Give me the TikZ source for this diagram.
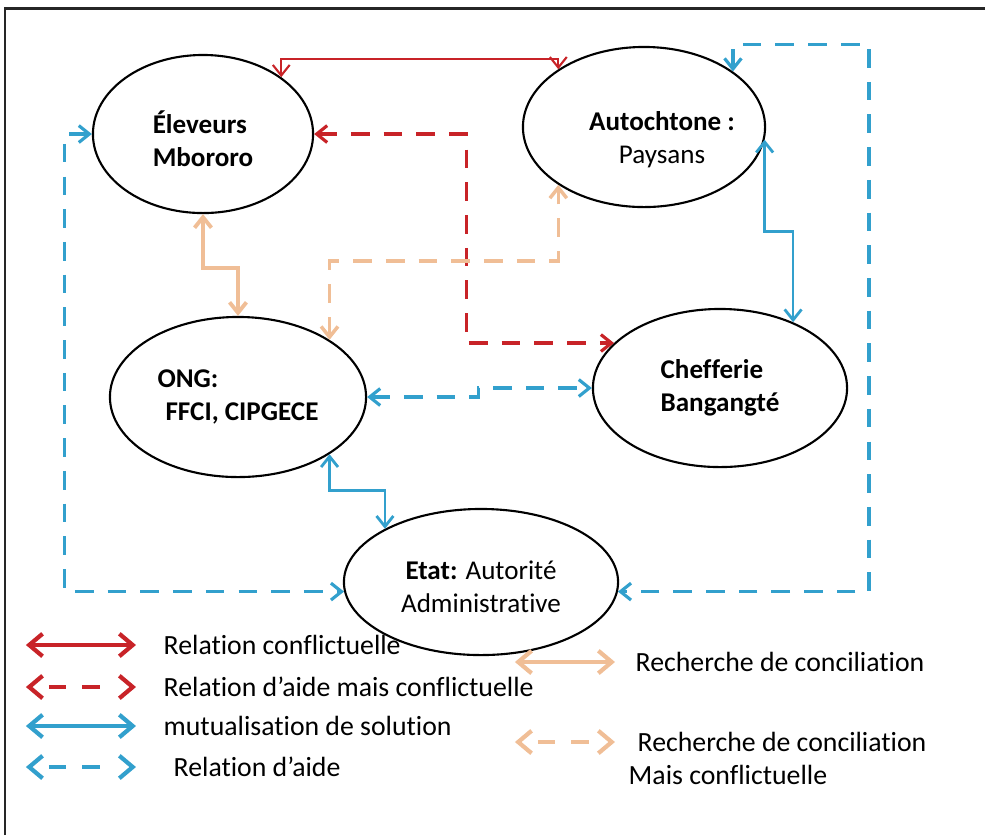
\documentclass[tikz,border=0pt]{standalone}
\usepackage{fontspec}
\setmainfont{Carlito}[Ligatures={NoCommon}]
\usetikzlibrary{arrows.meta,shapes.geometric}

\definecolor{conflred}{RGB}{200,35,40}
\definecolor{aideblue}{RGB}{50,160,205}
\definecolor{concitan}{RGB}{240,190,150}

\begin{document}
\begin{tikzpicture}[
  x=0.01cm, y=-0.01cm,
  acteur/.style={draw, ellipse, line width=0.6pt, inner sep=0pt,
    font=\fontsize{7.7}{9.3}\selectfont},
  legende/.style={anchor=west, inner sep=0pt, font=\fontsize{7.9}{9.3}\selectfont},
  rel/.style={line width=0.8pt,
    {Straight Barb[length=3pt,width=4.8pt]}-{Straight Barb[length=3pt,width=4.8pt]}},
  tirets/.style={dash pattern=on 5.3pt off 4pt},
  confl/.style={rel, conflred, line width=0.6pt},
  conflaide/.style={rel, tirets, conflred, line width=0.9pt},
  mutu/.style={rel, aideblue},
  aide/.style={rel, tirets, aideblue, line width=0.9pt},
  concil/.style={rel, concitan, line width=1.1pt},
  concilconfl/.style={rel, tirets, concitan, line width=1pt},
  leg/.style={line width=1.2pt,
    dash pattern=on 0pt off 5pt on 5pt off 4.5pt on 5pt off 10pt,
    {Straight Barb[length=3.8pt,width=6.4pt]}-{Straight Barb[length=3.8pt,width=6.4pt]}},
  legplein/.style={leg, solid},
  cadre/.style={line width=0.85pt, black!85},
]
  \useasboundingbox (0,0) rectangle (985,835);
  \draw[cadre] (5,835) -- (5,8) -- (985,8);

  % acteurs
  \node[acteur, minimum width=2.2cm, minimum height=1.58cm,
    label={[name=elevtxt, align=left, yshift=-0.05cm,
      font=\fontsize{7.7}{9.3}\selectfont\bfseries]center:{Éleveurs\\Mbororo}}]
    (elev) at (203,134) {};
  \node[acteur, minimum width=2.42cm, minimum height=1.6cm,
    label={[name=autotxt, align=center, xshift=0.18cm, yshift=-0.13cm,
      font=\fontsize{7.7}{9.3}\selectfont]center:{\textbf{Autochtone :}\\Paysans}}]
    (auto) at (644,127) {};
  \node[acteur, minimum width=2.56cm, minimum height=1.6cm, align=left,
    font=\fontsize{7.7}{9.5}\selectfont\bfseries] (ong) at (238,397) {ONG:\\\hspace*{0.08cm}FFCI, CIPGECE};
  \node[acteur, minimum width=2.54cm, minimum height=1.58cm, align=left,
    font=\fontsize{7.7}{9.5}\selectfont\bfseries] (chef) at (720,388) {Chefferie\\Bangangté};
  \node[acteur, minimum width=2.74cm, minimum height=1.46cm,
    label={[name=etattxt, align=center, yshift=-0.05cm,
      font=\fontsize{7.7}{9.3}\selectfont]center:{\textbf{Etat:} Autorité\\Administrative}}]
    (etat) at (481,582) {};

  % relations
  \draw[confl] (auto.146) -- ++(0,-10) -| (elev.36);
  \draw[conflaide] (elev.east) -- ++(152,0) |- (chef.157);
  \draw[concil] (elev.south) -- ++(0,54) -| (ong.north);
  \draw[concilconfl] (ong.32) -- ++(0,-79) -| (auto.214);
  \draw[mutu] (auto.354) -- ++(0,92) -| (chef.42);
  \draw[mutu] (ong.-32) -- ++(0,36) -| (etat.151);
  \draw[aide] (ong.east) -- ++(111,0) |- (chef.west);
  \draw[aide] (elev.west) -- ++(-27,0) |- (etat.184);
  \draw[aide] (auto.32) -- ++(0,-27) -- ++(136,0) |- (etat.356);

  % legende
  \node[legende] (lg1) at (163,645) {Relation conflictuelle};
  \draw[legplein, conflred] ([xshift=-1.37cm]lg1.west) -- ([xshift=-0.27cm]lg1.west);
  \node[legende] (lg2) at (163,687) {Relation d’aide mais conflictuelle};
  \draw[leg, conflred] ([xshift=-1.37cm]lg2.west) -- ([xshift=-0.27cm]lg2.west);
  \node[legende] (lg3) at (163,726) {mutualisation de solution};
  \draw[legplein, aideblue] ([xshift=-1.37cm]lg3.west) -- ([xshift=-0.27cm]lg3.west);
  \node[legende] (lg4) at (173,767) {Relation d’aide};
  \draw[leg, aideblue] ([xshift=-1.47cm]lg4.west) -- ([xshift=-0.37cm]lg4.west);
  \node[legende] (lg5) at (635,662) {Recherche de conciliation};
  \draw[legplein, concitan] ([xshift=-1.2cm]lg5.west) -- ([xshift=-0.2cm]lg5.west);
  \node[legende] (lg6) at (637,742) {Recherche de conciliation};
  \draw[leg, concitan] ([xshift=-1.22cm]lg6.west) -- ([xshift=-0.22cm]lg6.west);
  \node[legende] (lg7) at (628,775) {Mais conflictuelle};
\end{tikzpicture}
\end{document}
